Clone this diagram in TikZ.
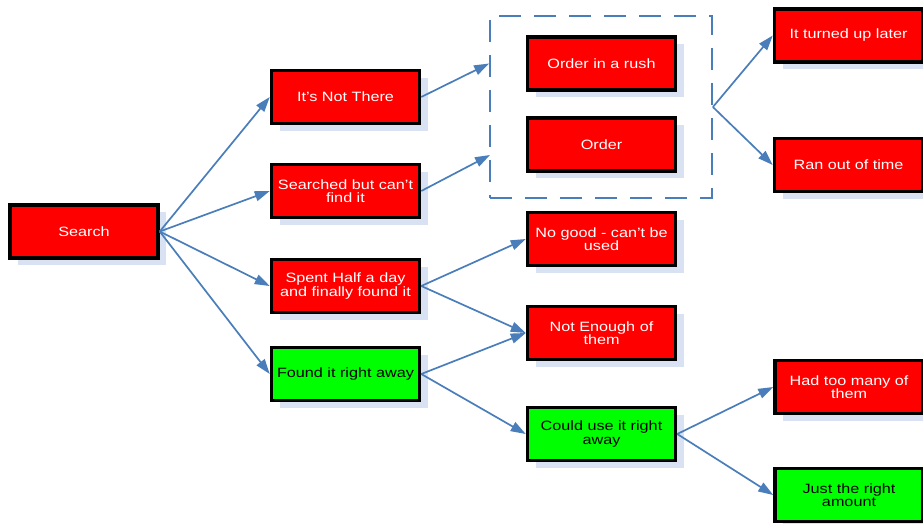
\documentclass[tikz,border=0pt]{standalone}
\usepackage{fontspec}
\setmainfont{Liberation Sans}[FakeStretch=1.2]
\usetikzlibrary{arrows.meta,shadows}
\definecolor{boxred}{RGB}{255,0,0}
\definecolor{boxgreen}{RGB}{0,255,0}
\definecolor{linkblue}{RGB}{74,126,187}
\definecolor{shadowc}{RGB}{216,226,242}
\begin{document}
\begin{tikzpicture}[x=1pt,y=-1pt,
  card/.style={draw=black, line width=3.5pt, minimum width=148pt, minimum height=53pt,
    inner sep=2pt, align=center, font=\fontsize{13.5}{13.5}\selectfont,
    drop shadow={shadow xshift=8pt, shadow yshift=-7pt, fill=shadowc, opacity=1}},
  redcard/.style={card, fill=boxred, text=white},
  greencard/.style={card, fill=boxgreen, text=black},
  groupbox/.style={draw=linkblue, line width=1.8pt, dash pattern=on 22pt off 13pt,
    minimum width=222pt, minimum height=182pt, inner sep=0pt},
  link/.style={draw=linkblue, line width=1.7pt, -{Triangle[length=15pt,width=10pt]}}
]
\useasboundingbox (0,0) rectangle (923,523);

\node[groupbox] (grp) at (601,107) {};

\node[redcard] (search) at (84,231.5) {Search};
\node[redcard] (notthere) at (345.5,97) {It's Not There};
\node[redcard] (searched) at (345.5,191) {Searched but can't\\find it};
\node[redcard] (spent) at (345.5,286) {Spent Half a day\\and finally found it};
\node[greencard] (found) at (345.5,374) {Found it right away};

\node[redcard] (rush) at (601.5,63.5) {Order in a rush};
\node[redcard] (order) at (601.5,144.5) {Order};
\node[redcard] (nogood) at (601.5,239) {No good - can't be\\used};
\node[redcard] (notenough) at (601.5,333) {Not Enough of\\them};
\node[greencard] (coulduse) at (601.5,434) {Could use it right\\away};

\node[redcard] (later) at (848.5,35.5) {It turned up later};
\node[redcard] (ranout) at (848.5,165) {Ran out of time};
\node[redcard] (toomany) at (849,387) {Had too many of\\them};
\node[greencard] (justright) at (849,495) {Just the right\\amount};

\coordinate (g1) at (grp.west |- rush.center);
\coordinate (g2) at (490,155);

\draw[link] (search.east) -- (notthere.west);
\draw[link] (search.east) -- (searched.west);
\draw[link] (search.east) -- (spent.west);
\draw[link] (search.east) -- (found.west);

\draw[link] (notthere.east) -- (g1);
\draw[link] (searched.east) -- (g2);

\draw[link] (grp.east) -- (later.west);
\draw[link] (grp.east) -- (ranout.west);

\draw[link] (spent.east) -- (nogood.west);
\draw[link] (spent.east) -- (notenough.west);
\draw[link] (found.east) -- (notenough.west);
\draw[link] (found.east) -- (coulduse.west);

\draw[link] (coulduse.east) -- (toomany.west);
\draw[link] (coulduse.east) -- (justright.west);
\end{tikzpicture}
\end{document}
